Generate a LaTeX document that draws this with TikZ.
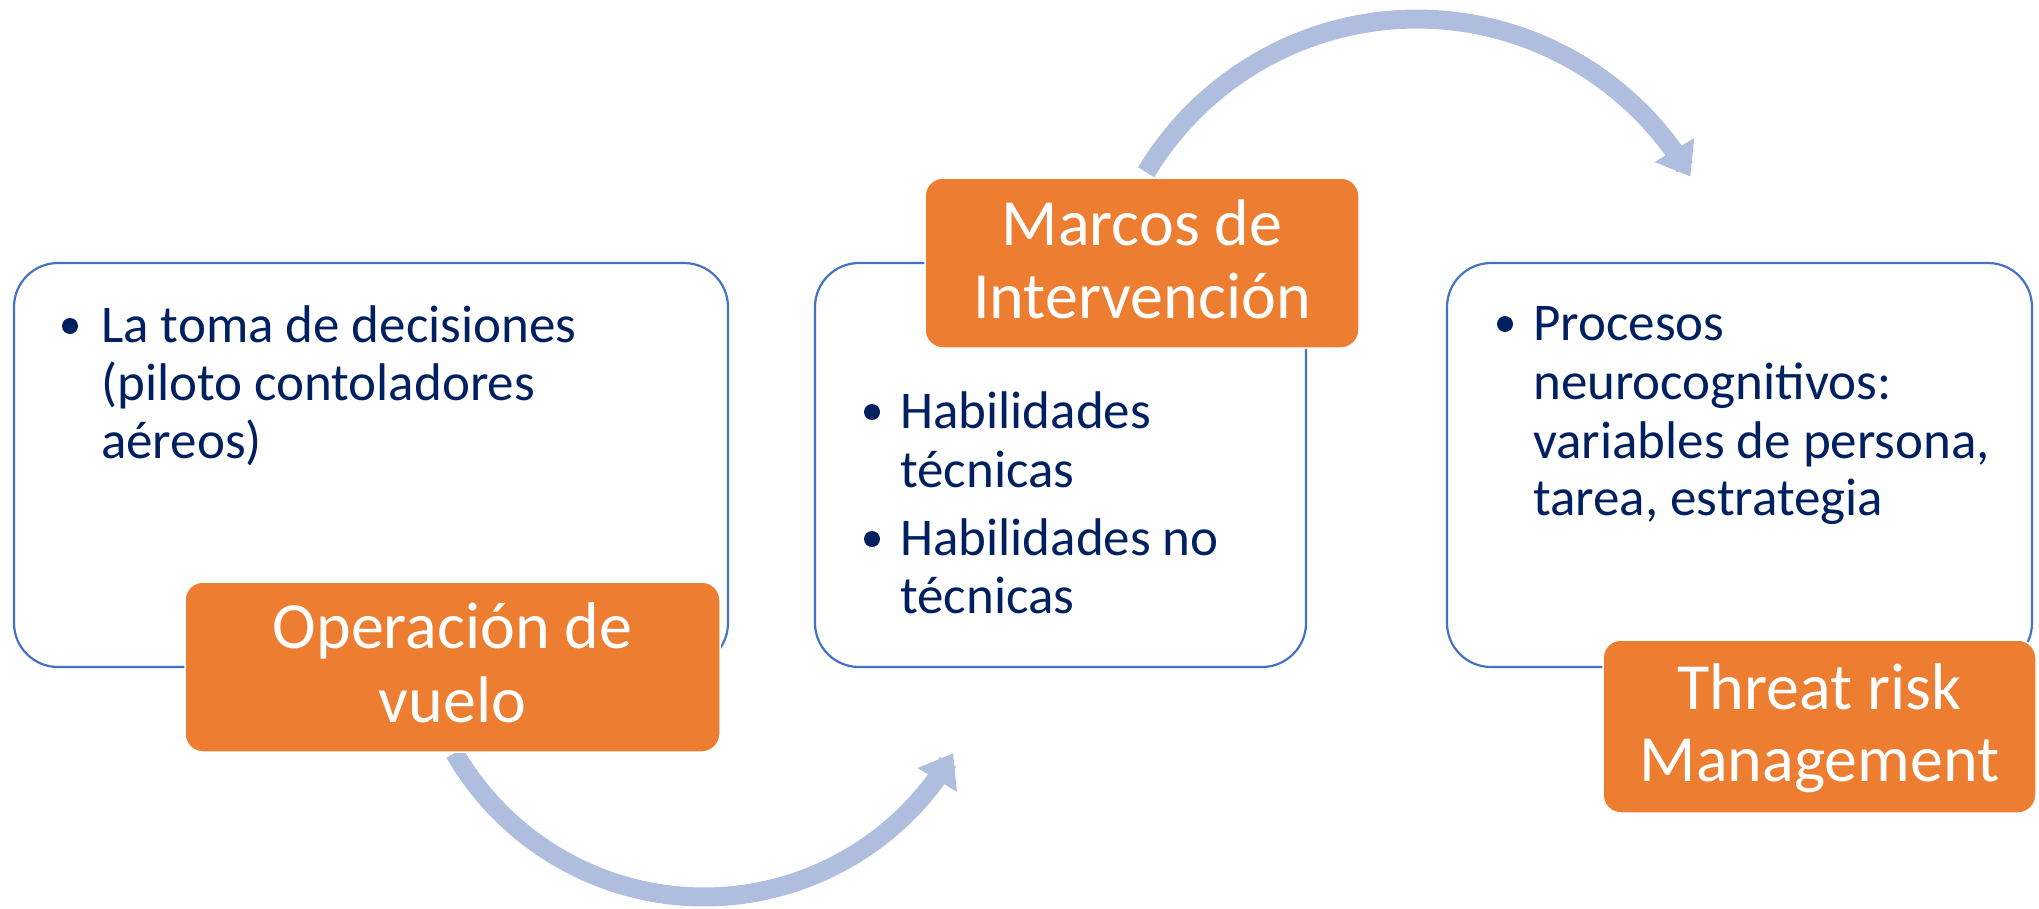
\documentclass[tikz,border=0pt]{standalone}
\usepackage{fontspec}
\setmainfont{Carlito}
\usetikzlibrary{arrows.meta}
\definecolor{boxblue}{HTML}{4472C4}
\definecolor{orangefill}{HTML}{ED7D31}
\definecolor{navy}{HTML}{002060}
\definecolor{arrowblue}{RGB}{175,189,222}
\tikzset{
  listbox/.style={draw=boxblue, line width=2.2pt, fill=white, rounded corners=44pt,
    anchor=north west, inner sep=0pt, outer sep=0pt},
  titlebox/.style={draw=white, line width=1.5pt, fill=orangefill, rounded corners=18pt,
    anchor=north west, inner sep=0pt, outer sep=0pt},
  bodyline/.style={anchor=base west, inner sep=0pt, text=navy, font=\fontsize{53}{58}\selectfont},
  titleline/.style={anchor=base, inner sep=0pt, text=white, font=\fontsize{66}{72}\selectfont},
  bulletdot/.style={circle, fill=navy, inner sep=0pt, minimum size=16pt},
  curvedarrow/.style={draw=arrowblue, line width=19pt, -{Triangle[width=44pt,length=31pt]}}
}
\begin{document}
\begin{tikzpicture}[x=1pt,y=-1pt]
\useasboundingbox (0,0) rectangle (2039,908);
% curved arrows (behind the boxes)
\draw[curvedarrow] plot[domain=0:1, samples=60, variable=\t]
  ({704+288*cos(150-120*\t)}, {609+288*sin(150-120*\t)});
\draw[curvedarrow] plot[domain=0:1, samples=60, variable=\t]
  ({1417+316*cos(-149+119*\t)}, {335+316*sin(-149+119*\t)});
% list boxes
\node[listbox, minimum width=714pt, minimum height=404pt] (box1) at (14,263) {};
\node[listbox, minimum width=491pt, minimum height=404pt] (box2) at (815,263) {};
\node[listbox, minimum width=585pt, minimum height=404pt] (box3) at (1447,263) {};
% box 1 text
\node[bulletdot] (d1) at (70,326) {};
\node[bodyline] (l11) at (101,342) {La toma de decisiones};
\node[bodyline] (l12) at (101,400) {(piloto contoladores};
\node[bodyline] (l13) at (101,458) {aéreos)};
% box 2 text
\node[bulletdot] (d2a) at (872,412) {};
\node[bodyline] (l21) at (900,428) {Habilidades};
\node[bodyline] (l22) at (900,487) {técnicas};
\node[bulletdot] (d2b) at (872,539) {};
\node[bodyline] (l23) at (900,555) {Habilidades no};
\node[bodyline] (l24) at (900,613) {técnicas};
% box 3 text
\node[bulletdot] (d3) at (1505,324) {};
\node[bodyline] (l31) at (1533,340) {Procesos};
\node[bodyline] (l32) at (1533,399) {neurocognitivos:};
\node[bodyline] (l33) at (1533,458) {variables de persona,};
\node[bodyline] (l34) at (1533,515) {tarea, estrategia};
% orange title boxes
\node[titlebox, minimum width=535pt, minimum height=170pt] (t1) at (185,582) {};
\node[titleline] (t11) at (452.5,648) {Operación de};
\node[titleline] (t12) at (452.5,722) {vuelo};
\node[titlebox, minimum width=434pt, minimum height=170pt] (t2) at (925,178) {};
\node[titleline] (t21) at (1142,245) {Marcos de};
\node[titleline] (t22) at (1142,318) {Intervención};
\node[titlebox, minimum width=433pt, minimum height=173pt] (t3) at (1603,640) {};
\node[titleline] (t31) at (1819.5,709) {Threat risk};
\node[titleline] (t32) at (1819.5,781) {Management};
\end{tikzpicture}
\end{document}
